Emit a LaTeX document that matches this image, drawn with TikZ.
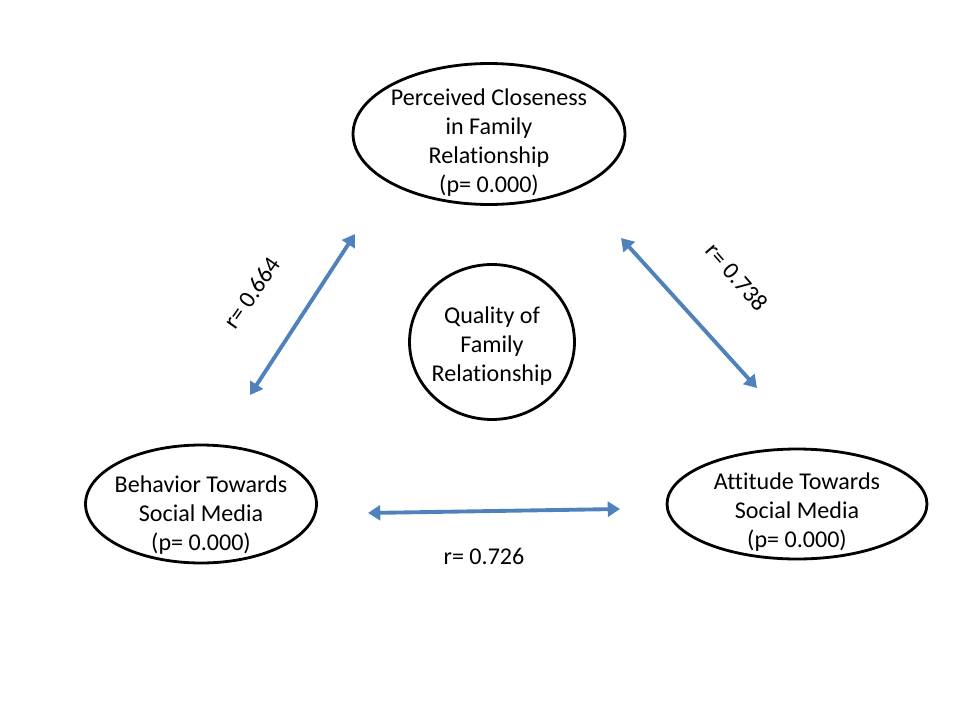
\documentclass[tikz,border=0pt]{standalone}
\usepackage{fontspec}
\setmainfont{Carlito}[Ligatures=NoCommon]
\usepackage{tikz}
\usetikzlibrary{positioning,arrows.meta,shapes.geometric}
\definecolor{OfficeBlue}{HTML}{4F81BD}

\begin{document}
\begin{tikzpicture}[x=0.02cm, y=-0.02cm,
        factor/.style={ellipse, draw=black, line width=1.6pt, inner sep=0pt},
        caption/.style={align=center, inner sep=0pt, font=\fontsize{13.7}{16.5}\selectfont},
        corr/.style={draw=OfficeBlue, line width=2.2pt, {Triangle[length=7pt,width=8.5pt]}-{Triangle[length=7pt,width=8.5pt]}},
        rlabel/.style={font=\fontsize{13.7}{16.5}\selectfont}
    ]
        \useasboundingbox (0,0) rectangle (960,720);
        \node [factor, minimum width=5.44cm, minimum height=2.82cm] (closeness) at (489,134) {};
        \node [factor, minimum width=3.3cm, minimum height=3.1cm] (quality) at (492,342) {};
        \node [factor, minimum width=4.62cm, minimum height=2.36cm] (behavior) at (201,504) {};
        \node [factor, minimum width=5.2cm, minimum height=2.2cm] (attitude) at (797,504) {};

        \node [caption] (closenessText) at ([yshift=-0.18cm]closeness.center) {Perceived Closeness\\ in Family\\ Relationship\\ (p= 0.000)};
        \node [caption] (qualityText) at ([yshift=-0.08cm]quality.center) {Quality of\\ Family\\ Relationship};
        \node [caption] (behaviorText) at ([yshift=-0.22cm]behavior.center) {Behavior Towards\\ Social Media\\ (p= 0.000)};
        \node [caption] (attitudeText) at ([yshift=-0.17cm]attitude.center) {Attitude Towards\\ Social Media\\ (p= 0.000)};

        \coordinate (bc1) at (250,395);
        \coordinate (bc2) at (355,234);
        \coordinate (ca1) at (621,238);
        \coordinate (ca2) at (757,388);
        \coordinate (ba1) at (368,513);
        \coordinate (ba2) at (620,509);

        \draw [corr] (bc1) -- (bc2);
        \draw [corr] (ca1) -- (ca2);
        \draw [corr] (ba1) -- (ba2);

        \node [rlabel, rotate=55] (rbc) at (252,293) {r= 0.664};
        \node [rlabel, rotate=-49] (rca) at (737,277) {r= 0.738};
        \node [rlabel] (rba) at (484,556) {r= 0.726};
    \end{tikzpicture}
\end{document}
